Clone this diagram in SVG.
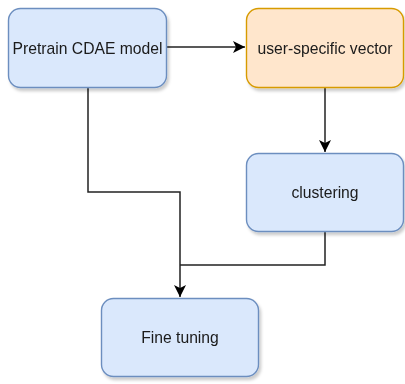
<svg xmlns="http://www.w3.org/2000/svg" width="405" height="384" viewBox="0 0 405 384">
<defs>
<filter id="sh" x="-10%" y="-10%" width="130%" height="130%">
<feDropShadow dx="2" dy="3" stdDeviation="1.5" flood-color="#000" flood-opacity="0.2"/>
</filter>
<marker id="arr" markerWidth="13" markerHeight="12" refX="12" refY="6" orient="auto" markerUnits="userSpaceOnUse">
<path d="M0,0 L12,6 L0,12 L3,6 Z" fill="#000"/>
</marker>
</defs>
<style>
.blue{fill:#dae8fc;stroke:#6c8ebf;stroke-width:1.4}
.orange{fill:#ffe6cc;stroke:#d79b00;stroke-width:1.4}
.lbl{font-family:"Liberation Sans",Arial,sans-serif;font-size:15.7px;fill:#1a1a1a;text-anchor:middle;dominant-baseline:central}
.edge{fill:none;stroke:#222;stroke-width:1.5}
</style>
<g id="connectors">
<path class="edge" d="M167,47 H245" marker-end="url(#arr)"/>
<path class="edge" d="M325,88 V152" marker-end="url(#arr)"/>
<path class="edge" d="M88,88 V192 H180 V297" marker-end="url(#arr)"/>
<path class="edge" d="M325,232 V265 H180"/>
</g>
<g id="pretrain" filter="url(#sh)">
<rect class="blue" x="8.5" y="8.5" width="158" height="79" rx="12"/>
<text class="lbl" x="87.5" y="48">Pretrain CDAE model</text>
</g>
<g id="vector" filter="url(#sh)">
<rect class="orange" x="246.5" y="8.5" width="157" height="79" rx="12"/>
<text class="lbl" x="325" y="48">user-specific vector</text>
</g>
<g id="clustering" filter="url(#sh)">
<rect class="blue" x="246.5" y="153.5" width="157" height="78" rx="12"/>
<text class="lbl" x="325" y="192">clustering</text>
</g>
<g id="finetuning" filter="url(#sh)">
<rect class="blue" x="101.5" y="298.5" width="157" height="78" rx="12"/>
<text class="lbl" x="180" y="337">Fine tuning</text>
</g>
</svg>
